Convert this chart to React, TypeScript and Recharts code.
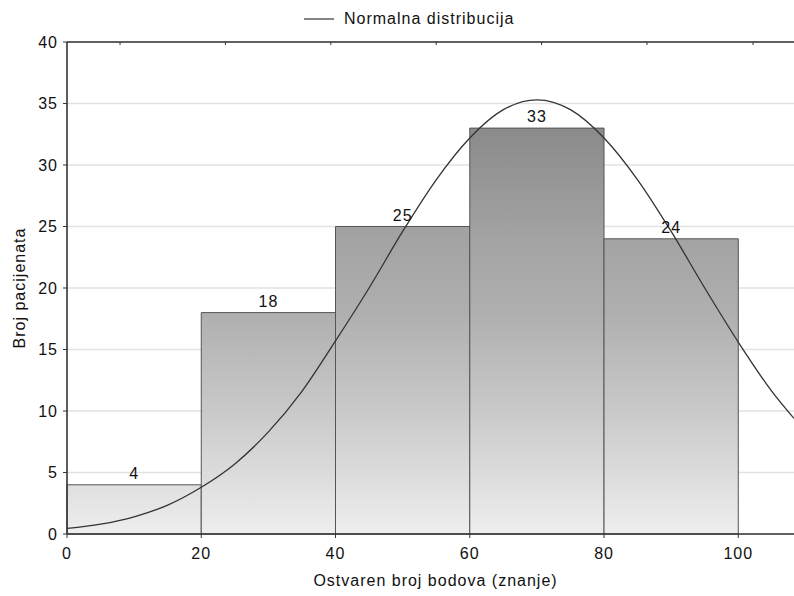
import React from 'react';
import {
  ComposedChart,
  Line,
  XAxis,
  YAxis,
  CartesianGrid,
  ReferenceArea,
  Legend,
} from 'recharts';

// Histogram bins (Ostvaren broj bodova) and counts (Broj pacijenata)
const binStarts = [0, 20, 40, 60, 80];
const binEnds = [20, 40, 60, 80, 100];
const counts = [4, 18, 25, 33, 24];

// Normal distribution curve
const curveX = [0, 5, 10, 15, 20, 25, 30, 35, 40, 45, 50, 55, 60, 65, 70, 75, 80, 85, 90, 95, 100, 105, 108.3];
const curveY = [0.45, 0.8, 1.4, 2.35, 3.8, 5.7, 8.3, 11.6, 15.7, 20.0, 24.6, 28.8, 32.2, 34.5, 35.3, 34.5, 32.2, 28.8, 24.6, 20.0, 15.6, 11.6, 9.4];

const xTicks = [0, 20, 40, 60, 80, 100];
const yTicks = [0, 5, 10, 15, 20, 25, 30, 35, 40];
const topTicks = [7.9, 23.6, 39.3, 55.0, 70.7, 86.4, 102.2];

const seriesName = 'Normalna distribucija';
const xTitle = 'Ostvaren broj bodova (znanje)';
const yTitle = 'Broj pacijenata';

const curveData = curveX.map((x, i) => ({ x, y: curveY[i] }));

const FONT = '"Liberation Sans", Arial, sans-serif';
const AXIS = '#333333';

const LegendContent = () => (
  <div style={{ display: 'flex', alignItems: 'center', whiteSpace: 'nowrap', fontSize: 16, color: '#111' }}>
    <svg width={30} height={4} style={{ display: 'block' }}>
      <line x1={0} y1={2} x2={30} y2={2} stroke={AXIS} strokeWidth={1.2} />
    </svg>
    <span style={{ marginLeft: 10 }}>{seriesName}</span>
  </div>
);

export default function App() {
  return (
    <div
      style={{
        position: 'absolute',
        left: 0,
        top: 0,
        width: 794,
        height: 596,
        background: '#fff',
        fontFamily: FONT,
        letterSpacing: '1px',
        overflow: 'hidden',
      }}
    >
      <ComposedChart
        width={794}
        height={596}
        data={curveData}
        margin={{ top: 40, right: 0, bottom: 0, left: 0 }}
      >
        <defs>
          <linearGradient id="barGrad" gradientUnits="userSpaceOnUse" x1={0} y1={42} x2={0} y2={534}>
            <stop offset="0" stopColor="#7c7c7c" />
            <stop offset="0.17" stopColor="#8a8a8a" />
            <stop offset="0.4" stopColor="#a3a3a3" />
            <stop offset="0.55" stopColor="#afafaf" />
            <stop offset="0.75" stopColor="#c9c9c9" />
            <stop offset="1" stopColor="#eeeeee" />
          </linearGradient>
        </defs>
        <CartesianGrid horizontal vertical={false} stroke="#e2e2e2" strokeWidth={1.5} />
        <XAxis
          dataKey="x"
          type="number"
          domain={[0, 108.3]}
          allowDataOverflow
          ticks={xTicks}
          height={62}
          tickSize={4}
          tickMargin={10}
          axisLine={{ stroke: AXIS, strokeWidth: 1.6 }}
          tickLine={{ stroke: AXIS }}
          tick={{ fill: '#111', fontSize: 16 }}
          label={{ value: xTitle, position: 'insideBottom', offset: 10, dx: 5, fill: '#111', fontSize: 16 }}
        />
        <XAxis
          xAxisId="top"
          dataKey="x"
          orientation="top"
          type="number"
          domain={[0, 108.3]}
          allowDataOverflow
          ticks={topTicks}
          height={2}
          tickSize={-3}
          tickFormatter={() => ''}
          axisLine={{ stroke: AXIS, strokeWidth: 1.6 }}
          tickLine={{ stroke: AXIS }}
        />
        <YAxis
          type="number"
          domain={[0, 40]}
          ticks={yTicks}
          width={67}
          tickSize={4}
          tickMargin={5}
          axisLine={{ stroke: AXIS, strokeWidth: 1.6 }}
          tickLine={{ stroke: AXIS }}
          tick={{ fill: '#111', fontSize: 16 }}
          label={{ value: yTitle, angle: -90, position: 'center', dx: -14, fill: '#111', fontSize: 16 }}
        />
        {binStarts.map((s, i) => (
          <ReferenceArea
            key={i}
            x1={s}
            x2={binEnds[i]}
            y1={0}
            y2={counts[i]}
            fill="url(#barGrad)"
            fillOpacity={1}
            stroke="#555"
            strokeWidth={1}
            label={{ value: String(counts[i]), position: 'top', offset: 6, fill: '#111', fontSize: 16 }}
          />
        ))}
        <Line
          xAxisId="top"
          dataKey="y"
          type="monotone"
          stroke="none"
          strokeOpacity={0}
          dot={false}
          activeDot={false}
          legendType="none"
          isAnimationActive={false}
        />
        <Line
          dataKey="y"
          type="monotone"
          stroke={AXIS}
          strokeWidth={1.3}
          dot={false}
          activeDot={false}
          isAnimationActive={false}
          name={seriesName}
        />
        <Legend
          layout="horizontal"
          verticalAlign="middle"
          align="center"
          content={<LegendContent />}
          wrapperStyle={{ position: 'absolute', top: 10, left: 304, width: 'auto', height: 'auto' }}
        />
      </ComposedChart>
    </div>
  );
}
